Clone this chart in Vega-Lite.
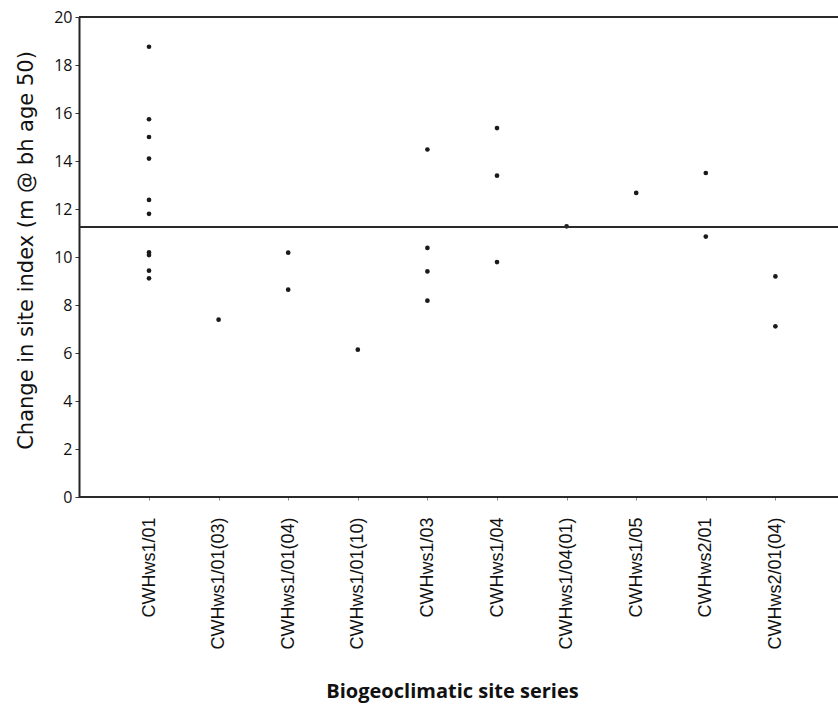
{
  "$schema": "https://vega.github.io/schema/vega-lite/v6.json",
  "autosize": "none",
  "width": 759,
  "height": 480,
  "padding": {"left": 79, "top": 17, "right": 0, "bottom": 214},
  "background": "white",
  "config": {"view": {"stroke": null}},
  "datasets": {
    "pts": [
      {"series": "CWHws1/01", "change": 18.76},
      {"series": "CWHws1/01", "change": 15.74},
      {"series": "CWHws1/01", "change": 15.0},
      {"series": "CWHws1/01", "change": 14.1},
      {"series": "CWHws1/01", "change": 12.38},
      {"series": "CWHws1/01", "change": 11.8},
      {"series": "CWHws1/01", "change": 10.19},
      {"series": "CWHws1/01", "change": 10.08},
      {"series": "CWHws1/01", "change": 9.43},
      {"series": "CWHws1/01", "change": 9.11},
      {"series": "CWHws1/01(03)", "change": 7.39},
      {"series": "CWHws1/01(04)", "change": 10.18},
      {"series": "CWHws1/01(04)", "change": 8.64},
      {"series": "CWHws1/01(10)", "change": 6.14},
      {"series": "CWHws1/03", "change": 14.48},
      {"series": "CWHws1/03", "change": 10.38},
      {"series": "CWHws1/03", "change": 9.4},
      {"series": "CWHws1/03", "change": 8.18},
      {"series": "CWHws1/04", "change": 15.37},
      {"series": "CWHws1/04", "change": 13.39},
      {"series": "CWHws1/04", "change": 9.79},
      {"series": "CWHws1/04(01)", "change": 11.28},
      {"series": "CWHws1/05", "change": 12.67},
      {"series": "CWHws2/01", "change": 13.5},
      {"series": "CWHws2/01", "change": 10.85},
      {"series": "CWHws2/01(04)", "change": 9.19},
      {"series": "CWHws2/01(04)", "change": 7.11}
    ],
    "lines": [
      {"kind": "top", "value": 20, "w": 1.8},
      {"kind": "mean", "value": 11.25, "w": 1.8},
      {"kind": "bottom", "value": 0, "w": 2.2}
    ]
  },
  "layer": [
    {
      "data": {"name": "pts"},
      "mark": {"type": "circle", "size": 22, "color": "#1a1a1a", "opacity": 1},
      "encoding": {
        "x": {
          "field": "series",
          "type": "nominal",
          "sort": ["CWHws1/01", "CWHws1/01(03)", "CWHws1/01(04)", "CWHws1/01(10)", "CWHws1/03", "CWHws1/04", "CWHws1/04(01)", "CWHws1/05", "CWHws2/01", "CWHws2/01(04)"],
          "scale": {"type": "point", "range": [70, 696.4], "padding": 0},
          "axis": {
            "title": "Biogeoclimatic site series",
            "titleFont": "Open Sans",
            "titleFontWeight": "bold",
            "titleFontSize": 20,
            "titleColor": "#111111",
            "titlePadding": 32,
            "titleX": 373,
            "labelAngle": 270,
            "labelAlign": "right",
            "labelBaseline": "middle",
            "labelFont": "Liberation Sans",
            "labelFontSize": 18,
            "labelColor": "#111111",
            "labelPadding": 17,
            "labelLimit": 300,
            "tickSize": 3,
            "tickColor": "#888888",
            "domain": false,
            "grid": false
          }
        },
        "y": {
          "field": "change",
          "type": "quantitative",
          "scale": {"domain": [0, 20], "nice": false},
          "axis": {
            "title": "Change in site index (m @ bh age 50)",
            "titleFont": "DejaVu Sans",
            "titleFontWeight": "normal",
            "titleFontSize": 21,
            "titleColor": "#111111",
            "titlePadding": 17,
            "titleY": 233,
            "values": [0, 2, 4, 6, 8, 10, 12, 14, 16, 18, 20],
            "labelFont": "Open Sans",
            "labelFontSize": 16,
            "labelColor": "#111111",
            "labelPadding": 3,
            "tickSize": 4,
            "tickColor": "#333333",
            "domainColor": "#222222",
            "domainWidth": 2,
            "grid": false
          }
        }
      }
    },
    {
      "data": {"name": "lines"},
      "mark": {"type": "rule", "color": "#2a2a2a"},
      "encoding": {
        "y": {"field": "value", "type": "quantitative"},
        "strokeWidth": {"field": "w", "type": "quantitative", "scale": null}
      }
    }
  ]
}
